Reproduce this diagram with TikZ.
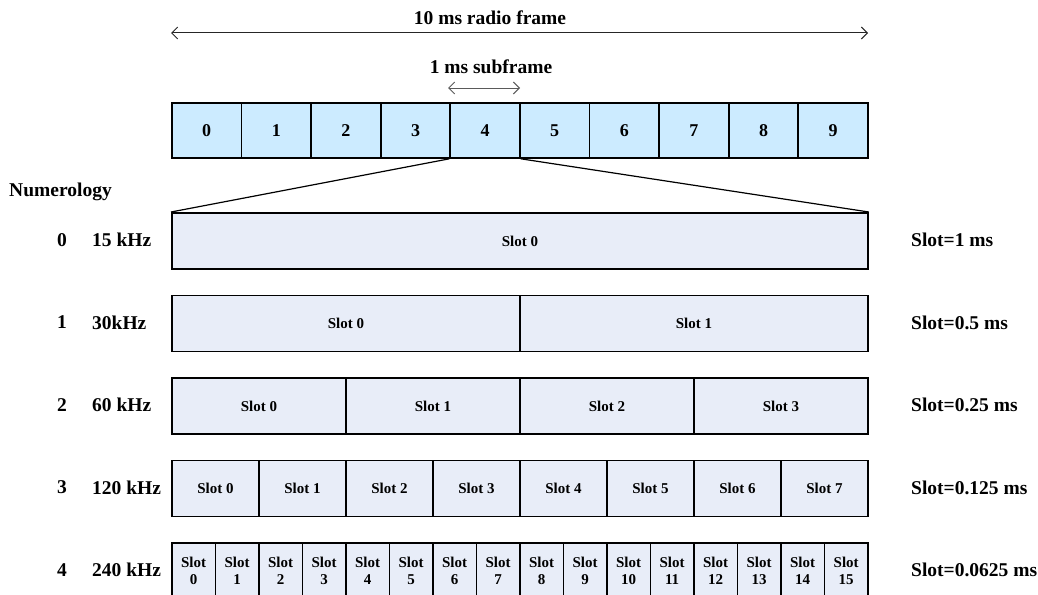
\documentclass[tikz,border=0pt]{standalone}
\usepackage{fontspec}
\setmainfont{Liberation Serif}
\definecolor{sfblue}{RGB}{204,235,255}
\definecolor{slotfill}{RGB}{232,237,248}
\definecolor{arrgray}{RGB}{90,90,90}
\usetikzlibrary{arrows.meta,positioning}

\begin{document}
\begin{tikzpicture}[x=1pt,y=-1pt,
  sfbox/.style={draw,line width=1.8pt,fill=sfblue,minimum width=69.6pt,
    minimum height=55pt,inner sep=0pt,anchor=north west,
    font=\fontsize{18}{21}\selectfont\bfseries},
  slotbox/.style={draw,line width=1.8pt,fill=slotfill,minimum height=56pt,
    inner sep=0pt,anchor=north west,align=center,
    font=\fontsize{15}{17}\selectfont\bfseries},
  lbl/.style={font=\fontsize{19.5}{23}\selectfont\bfseries,inner sep=0pt},
  span/.style={{Straight Barb[length=6pt,width=12pt]}-{Straight Barb[length=6pt,width=12pt]}}
]
  \useasboundingbox (0,0) rectangle (1038,594);

  % 10 ms frame made of ten subframes
  \node[lbl] (frame) at (490,18) {10 ms radio frame};
  \node[lbl] (sub) at (491,67) {1 ms subframe};
  \foreach \i in {0,...,9}
    \node[sfbox] (sf\i) at ({171+69.6*\i},102) {\i};

  % spans above the frame
  \coordinate (fl) at (171,33);
  \coordinate (fr) at (868,33);
  \draw[span,line width=1pt,black!85] (fl) -- (fr);
  \coordinate (sl) at (448,88);
  \coordinate (sr) at (520,88);
  \draw[span,line width=1pt,arrgray] (sl) -- (sr);

  \node[lbl,anchor=west] (numer) at (9,192) {Numerology};

  % one row of slots per numerology
  \foreach \r/\f/\d in {0/15 kHz/1,1/30kHz/0.5,2/60 kHz/0.25,3/120 kHz/0.125,4/240 kHz/0.0625}{
    \pgfmathtruncatemacro\n{2^\r}
    \pgfmathtruncatemacro\m{\n-1}
    \pgfmathsetmacro\w{696/\n}
    \pgfmathsetmacro\yt{212+82.5*\r}
    \pgfmathsetmacro\yc{\yt+28}
    \foreach \s in {0,...,\m}{
      \ifnum\r=4
        \node[slotbox,minimum width=\w pt] (r\r s\s) at ({171+\w*\s},\yt) {Slot\\\s};
      \else
        \node[slotbox,minimum width=\w pt] (r\r s\s) at ({171+\w*\s},\yt) {Slot \s};
      \fi
    }
    \node[lbl] (num\r) at (62,\yc) {\r};
    \node[lbl,anchor=west] (scs\r) at (92,\yc) {\f};
    \node[lbl,anchor=west] (dur\r) at (911,\yc) {Slot=\d\ ms};
  }

  % subframe 4 opened up
  \draw[line width=1.2pt] (sf4.south west) -- (r0s0.north west);
  \draw[line width=1.2pt] (sf4.south east) -- (r0s0.north east);
\end{tikzpicture}
\end{document}
